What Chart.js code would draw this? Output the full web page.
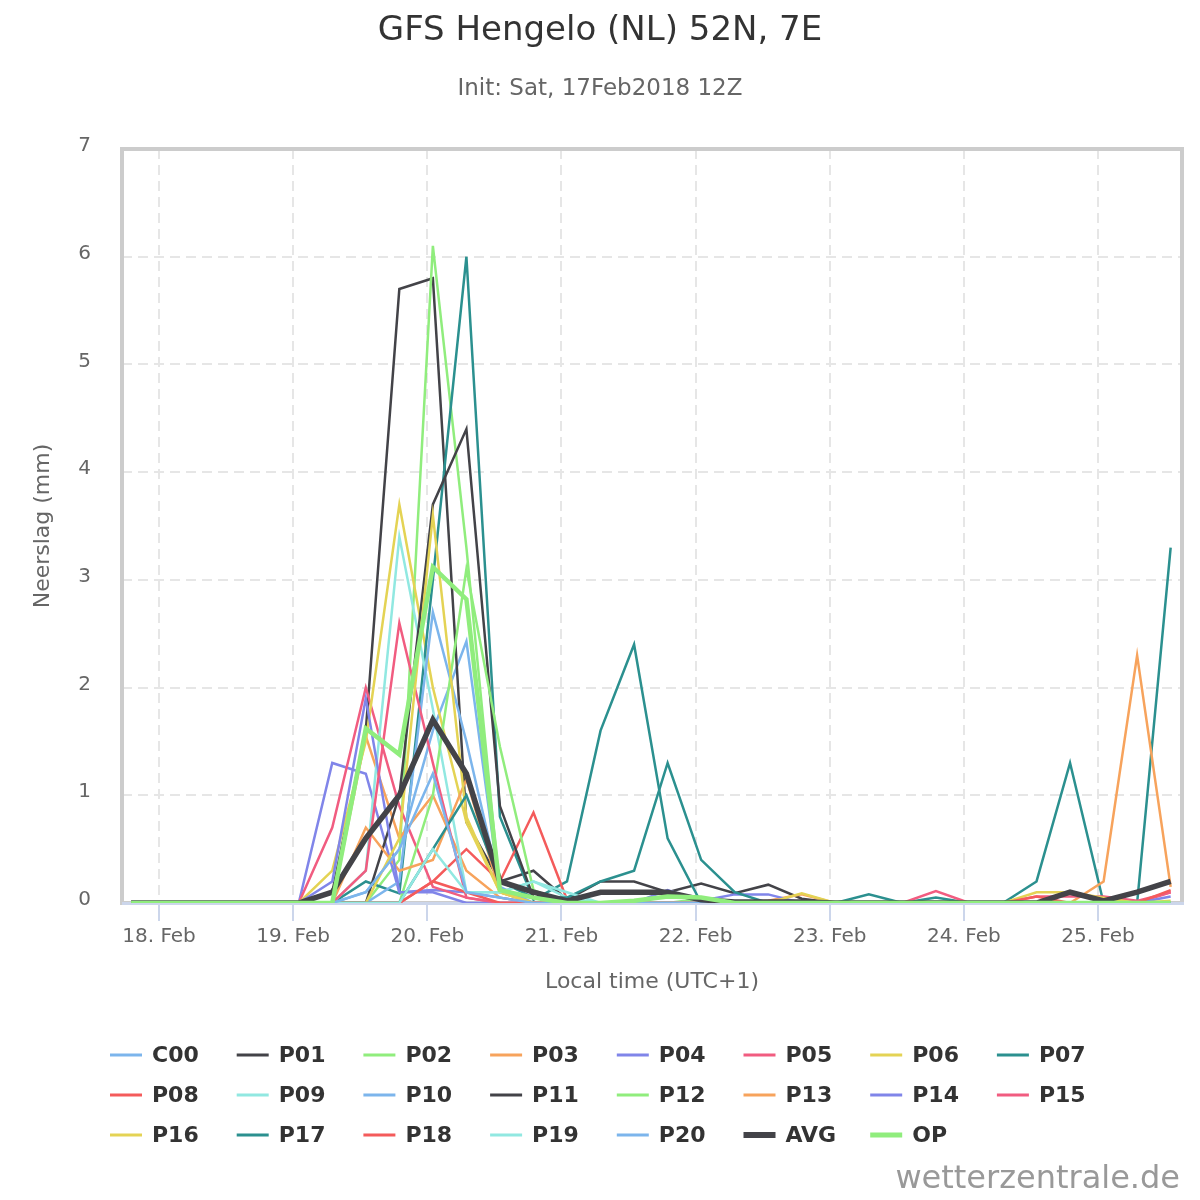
<!DOCTYPE html>
<html>
<head>
<meta charset="utf-8">
<script src="https://cdn.jsdelivr.net/npm/chart.js@4/dist/chart.umd.min.js"></script>
<style>
  html, body { margin: 0; padding: 0; background: #fff; }
</style>
</head>
<body>
<canvas id="gfsChart" width="1200" height="1200"></canvas>
<script>
// hours since 18 Feb 00:00 local time, one step every 6h
var timeHours = [-5, 1, 7, 13, 19, 25, 31, 37, 43, 49, 55, 61, 67, 73, 79, 85,
                 91, 97, 103, 109, 115, 121, 127, 133, 139, 145, 151, 157, 163, 169, 175, 181];
var dayTicks = [0, 24, 48, 72, 96, 120, 144, 168];
var dayLabels = ['18. Feb', '19. Feb', '20. Feb', '21. Feb', '22. Feb', '23. Feb', '24. Feb', '25. Feb'];

var C00 = [0,0,0,0,0,0,0,0.1,0.5,1.6,2.43,0.1,0.05,0,0,0,0,0,0,0,0,0,0,0,0,0,0,0,0,0,0,0];
var P01 = [0,0,0,0,0,0,0.1,1.6,5.7,5.8,0.75,0.2,0.3,0.03,0.2,0.2,0.1,0.18,0.09,0.17,0.04,0,0,0,0,0,0,0,0,0,0,0];
var P02 = [0,0,0,0,0,0,0,0,0.4,6.1,3.3,0.1,0.05,0,0,0,0,0.04,0,0,0,0,0,0,0,0,0,0,0,0,0,0];
var P03 = [0,0,0,0,0,0,0,1.55,0.6,1.0,0.3,0.05,0,0,0,0,0,0,0,0.02,0.08,0,0,0,0,0,0,0,0,0,0,0];
var P04 = [0,0,0,0,0,0,1.3,1.2,0.1,0.12,0.1,0.05,0,0,0,0,0.12,0.02,0.08,0.08,0,0,0,0,0,0,0,0,0,0,0,0];
var P05 = [0,0,0,0,0,0,0.7,2.0,0.9,0.15,0.05,0,0,0,0,0,0,0,0,0,0,0,0,0,0,0,0,0,0,0,0,0.1];
var P06 = [0,0,0,0,0,0,0.3,1.5,3.7,2.0,0.75,0.1,0,0,0,0,0,0,0,0,0.09,0,0,0,0,0,0,0,0,0,0,0];
var P07 = [0,0,0,0,0,0,0,0.2,0.09,3.0,6.0,0.8,0.03,0.2,1.6,2.4,0.6,0,0,0,0,0,0.08,0,0.05,0,0,0.2,1.3,0,0,3.3];
var P08 = [0,0,0,0,0,0,0,0,0,0.2,0.5,0.2,0.84,0.03,0,0,0,0,0,0,0,0,0,0,0,0,0,0,0,0,0,0];
var P09 = [0,0,0,0,0,0,0,0.3,3.4,1.8,0.1,0.1,0.2,0.05,0,0,0,0,0,0,0,0,0,0,0,0,0,0,0,0,0,0];
var P10 = [0,0,0,0,0,0,0,0,0.2,2.7,1.5,0.15,0,0,0,0,0,0,0,0,0,0,0,0,0,0,0,0,0,0,0,0];
var P11 = [0,0,0,0,0,0,0,0,1.0,3.7,4.4,0.9,0.05,0,0,0,0,0,0,0,0,0,0,0,0,0,0,0,0,0,0,0];
var P12 = [0,0,0,0,0,0,0,0,0,1.0,3.1,1.45,0.12,0,0,0,0,0,0,0,0,0,0,0,0,0,0,0,0,0,0,0];
var P13 = [0,0,0,0,0,0,0,0.7,0.3,0.4,1.15,0.1,0,0,0,0,0,0,0,0,0,0,0,0,0,0,0,0,0,0.2,2.3,0.15];
var P14 = [0,0,0,0,0,0,0.2,1.9,0.1,0.1,0,0,0,0,0,0,0,0,0,0,0,0,0,0,0,0,0,0,0,0,0,0.06];
var P15 = [0,0,0,0,0,0,0,0.3,2.6,1.3,0.05,0,0,0,0,0,0,0,0,0,0,0,0,0,0.11,0,0,0.06,0.06,0.06,0.02,0.1];
var P16 = [0,0,0,0,0,0,0,0,0.6,3.6,0.8,0.1,0,0,0,0,0,0,0,0,0,0,0,0,0,0,0,0.1,0.1,0.05,0,0.02];
var P17 = [0,0,0,0,0,0,0,0,0,0.5,1.0,0.2,0.05,0.05,0.2,0.3,1.3,0.4,0.1,0,0,0,0,0,0,0,0,0,0,0,0,0];
var P18 = [0,0,0,0,0,0,0,0,0,0.2,0.1,0,0,0,0,0,0,0,0,0,0,0,0,0,0,0,0,0.06,0,0,0,0.12];
var P19 = [0,0,0,0,0,0,0,0,0,0.5,0.1,0.1,0.2,0.1,0,0,0,0,0,0,0,0,0,0,0,0,0,0,0,0,0,0];
var P20 = [0,0,0,0,0,0,0,0.1,0.5,1.2,0.1,0.05,0,0,0,0,0,0,0,0,0,0,0,0,0,0,0,0,0,0,0,0];
var AVG = [0,0,0,0,0,0,0.1,0.6,1.0,1.7,1.2,0.2,0.1,0.02,0.1,0.1,0.1,0.03,0.01,0.01,0.01,0,0,0,0,0,0,0,0.1,0.02,0.1,0.2];
var OP  = [0,0,0,0,0,0,0,1.62,1.38,3.12,2.82,0.12,0.05,0,0,0.02,0.06,0.05,0,0,0,0,0,0,0,0,0,0,0,0,0,0];

var memberNames = ['C00','P01','P02','P03','P04','P05','P06','P07','P08','P09','P10',
                   'P11','P12','P13','P14','P15','P16','P17','P18','P19','P20','AVG','OP'];
var memberValues = [C00,P01,P02,P03,P04,P05,P06,P07,P08,P09,P10,
                    P11,P12,P13,P14,P15,P16,P17,P18,P19,P20,AVG,OP];
var palette = ['#7cb5ec','#434348','#90ed7d','#f7a35c','#8085e9',
               '#f15c80','#e4d354','#2b908f','#f45b5b','#91e8e1'];

var FONT = "'DejaVu Sans', Verdana, sans-serif";
Chart.defaults.font.family = FONT;

var datasets = memberNames.map(function(name, i){
  var color = palette[i % 10];
  var width = 2.5;
  if(name == 'AVG'){ color = '#434348'; width = 5.5; }
  if(name == 'OP'){ color = '#90ed7d'; width = 4.5; }
  return {
    label: name,
    data: memberValues[i].map(function(v, k){ return {x: timeHours[k], y: v}; }),
    borderColor: color,
    backgroundColor: color,
    borderWidth: width,
    pointRadius: 0,
    tension: 0,
    fill: false,
    order: memberNames.length - i
  };
});

// frame, titles, legend and credits
var decorations = {
  id: 'decorations',
  beforeDatasetsDraw: function(chart){
    var a = chart.chartArea, ctx = chart.ctx;
    ctx.save();
    ctx.strokeStyle = '#cccccc';
    ctx.lineWidth = 4;
    ctx.strokeRect(a.left, a.top, a.right - a.left, a.bottom - a.top);
    ctx.strokeStyle = '#ccd6eb';
    ctx.lineWidth = 3;
    ctx.beginPath();
    ctx.moveTo(a.left, a.bottom + 0.5);
    ctx.lineTo(a.right + 2, a.bottom + 0.5);
    ctx.stroke();
    ctx.restore();
  },
  afterDraw: function(chart){
    var ctx = chart.ctx;
    ctx.save();
    ctx.textAlign = 'center';
    ctx.textBaseline = 'alphabetic';
    ctx.fillStyle = '#333333';
    ctx.font = '34px ' + FONT;
    ctx.fillText('GFS Hengelo (NL) 52N, 7E', 600, 40);
    ctx.fillStyle = '#666666';
    ctx.font = '23px ' + FONT;
    ctx.fillText('Init: Sat, 17Feb2018 12Z', 600, 95);

    ctx.textAlign = 'left';
    ctx.textBaseline = 'middle';
    ctx.font = 'bold 22px ' + FONT;
    chart.data.datasets.forEach(function(ds, i){
      var x = 110 + (i % 8) * 126.7;
      var y = 1055 + Math.floor(i / 8) * 40;
      ctx.strokeStyle = ds.borderColor;
      ctx.lineWidth = ds.borderWidth + 0.5;
      ctx.beginPath();
      ctx.moveTo(x, y);
      ctx.lineTo(x + 32, y);
      ctx.stroke();
      ctx.fillStyle = '#333333';
      ctx.fillText(ds.label, x + 42, y + 1);
    });

    ctx.textAlign = 'right';
    ctx.textBaseline = 'alphabetic';
    ctx.fillStyle = '#999999';
    ctx.font = '32px ' + FONT;
    ctx.fillText('wetterzentrale.de', 1180, 1188);
    ctx.restore();
  }
};

new Chart(document.getElementById('gfsChart'), {
  type: 'line',
  data: { datasets: datasets },
  options: {
    responsive: false,
    animation: false,
    layout: { padding: { top: 149, right: 18, bottom: 197, left: 0 } },
    plugins: {
      legend: { display: false },
      tooltip: { enabled: false }
    },
    scales: {
      x: {
        type: 'linear',
        min: -6.62,
        max: 183.03,
        afterFit: function(s){ s.height = 100; },
        afterBuildTicks: function(s){ s.ticks = dayTicks.map(function(v){ return {value: v}; }); },
        ticks: {
          autoSkip: false,
          maxRotation: 0,
          color: '#666666',
          font: { size: 20 },
          padding: 4,
          callback: function(value){ return dayLabels[dayTicks.indexOf(value)]; }
        },
        grid: {
          color: '#e6e6e6',
          lineWidth: 2,
          drawTicks: true,
          tickLength: 18,
          tickColor: '#ccd6eb',
          tickWidth: 2,
          tickBorderDash: []
        },
        border: { display: false, dash: [10, 6] },
        title: {
          display: true,
          text: 'Local time (UTC+1)',
          color: '#666666',
          font: { size: 22 },
          padding: { top: 0, bottom: 8 }
        }
      },
      y: {
        min: 0,
        max: 7,
        afterFit: function(s){ s.width = 122; },
        ticks: {
          stepSize: 1,
          color: '#666666',
          font: { size: 20 },
          padding: 31,
          labelOffset: -3
        },
        grid: {
          color: '#e6e6e6',
          lineWidth: 2,
          drawTicks: false
        },
        border: { display: false, dash: [10, 6] },
        title: {
          display: true,
          text: 'Neerslag (mm)',
          color: '#666666',
          font: { size: 22 },
          padding: { top: 30, bottom: 0 }
        }
      }
    }
  },
  plugins: [decorations]
});
</script>
</body>
</html>
